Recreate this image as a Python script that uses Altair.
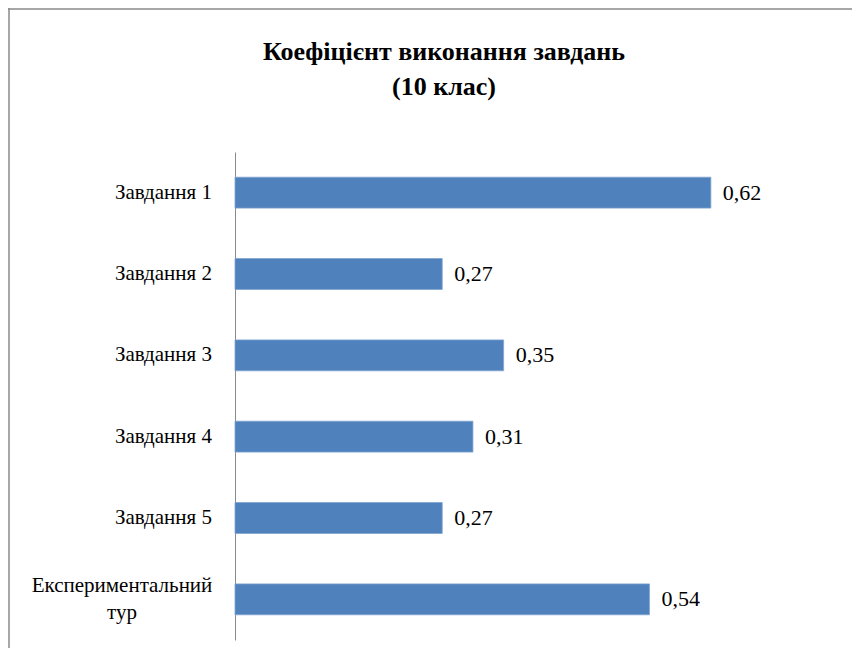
import altair as alt
import pandas as pd

categories = ["Завдання 1", "Завдання 2", "Завдання 3", "Завдання 4", "Завдання 5",
              "Експериментальний тур"]
values = [0.62, 0.27, 0.35, 0.31, 0.27, 0.54]
title_lines = ["Коефіцієнт виконання завдань", "(10 клас)"]
multi_line_category = "Експериментальний тур"

df = pd.DataFrame({"category": categories, "value": values})

FONT = "Times New Roman"
BAR = "#4F81BD"
GRAY = "#8A8A8A"
W, H = 614, 488

y_enc = alt.Y("category:N", sort=categories,
              scale=alt.Scale(paddingInner=0.62, paddingOuter=0.31),
              axis=alt.Axis(labels=False, ticks=False, title=None, grid=False,
                            domainColor=GRAY, domainWidth=1))
x_enc = alt.X("value:Q", scale=alt.Scale(domain=[0, 0.8], nice=False), axis=None)

base = alt.Chart(df)

bars = base.mark_bar(color=BAR, stroke="#7FA3D1", strokeWidth=0.8).encode(x=x_enc, y=y_enc)

vals = base.mark_text(align="left", baseline="middle", dx=12, font=FONT,
                      fontSize=22, color="black").encode(
    x=x_enc, y=y_enc, text="label:N"
).transform_calculate(label="replace(format(datum.value, '.2f'), '.', ',')")

cat_single = base.transform_filter(
    alt.datum.category != multi_line_category
).mark_text(align="right", baseline="middle", font=FONT, fontSize=21, color="black").encode(
    y=y_enc, x=alt.value(-23), text="category:N")

cat_multi = base.transform_filter(
    alt.datum.category == multi_line_category
).mark_text(align="center", baseline="middle", font=FONT, fontSize=21, color="black",
            lineBreak=" ", lineHeight=27, dy=-13).encode(
    y=y_enc, x=alt.value(-113), text="category:N")

t1 = alt.Chart(df).transform_filter("datum.value == 0.62").mark_text(
    align="center", baseline="middle", font=FONT, fontSize=26,
    fontWeight="bold", color="black").encode(
    x=alt.value(209), y=alt.value(-100), text=alt.value(title_lines[0]))
t2 = alt.Chart(df).transform_filter("datum.value == 0.62").mark_text(
    align="center", baseline="middle", font=FONT, fontSize=26,
    fontWeight="bold", color="black").encode(
    x=alt.value(209), y=alt.value(-65), text=alt.value(title_lines[1]))

frame_top = alt.Chart(df).transform_filter("datum.value == 0.62").mark_rule(
    color=GRAY, strokeWidth=1.5).encode(
    x=alt.value(-227), x2=alt.value(W + 3), y=alt.value(-143))
frame_left = alt.Chart(df).transform_filter("datum.value == 0.62").mark_rule(
    color=GRAY, strokeWidth=1.5).encode(
    x=alt.value(-226), y=alt.value(-144), y2=alt.value(H + 8))

chart = alt.layer(frame_top, frame_left, t1, t2, bars, vals, cat_single, cat_multi).properties(
    width=W, height=H,
    autosize=alt.AutoSizeParams(type="none"),
    padding={"left": 227, "top": 144, "right": 3, "bottom": 8},
).configure(background="white").configure_view(strokeWidth=0, stroke=None)

chart.save("out.html", embed_options={"renderer": "svg", "actions": False})
